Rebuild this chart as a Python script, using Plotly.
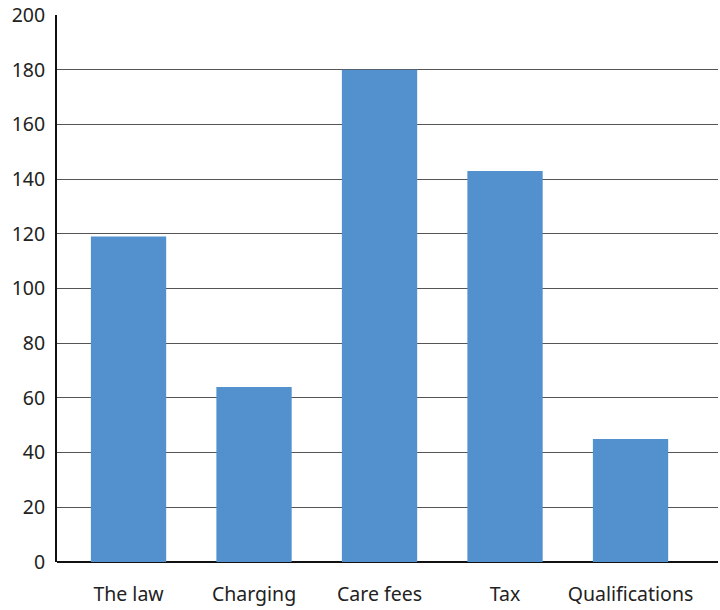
import plotly.graph_objects as go

categories = ["The law", "Charging", "Care fees", "Tax", "Qualifications"]
counts = [119, 64, 180, 143, 45]
y_ticks = [0, 20, 40, 60, 80, 100, 120, 140, 160, 180, 200]

fig = go.Figure(
    go.Bar(
        x=list(range(len(categories))),
        y=counts,
        width=0.6,
        marker=dict(color="#5290CE", line=dict(width=0)),
    )
)

fig.update_layout(
    width=720,
    height=610,
    margin=dict(l=57, r=2, t=15, b=48),
    paper_bgcolor="white",
    plot_bgcolor="white",
    showlegend=False,
    font=dict(family="Noto Sans", size=19.5, color="#222222"),
)

fig.update_xaxes(
    range=[-0.57, 4.697],
    tickmode="array",
    tickvals=list(range(len(categories))),
    ticktext=categories,
    showgrid=False,
    zeroline=False,
    showline=False,
    ticks="outside",
    ticklen=15,
    tickcolor="rgba(0,0,0,0)",
    tickfont=dict(size=19.5, color="#222222"),
)

fig.update_yaxes(
    range=[0, 200],
    tickmode="array",
    tickvals=y_ticks,
    showgrid=True,
    gridcolor="#555555",
    gridwidth=1.3,
    zeroline=True,
    zerolinecolor="#111111",
    zerolinewidth=2,
    showline=True,
    linecolor="#111111",
    linewidth=2,
    ticks="outside",
    ticklen=6,
    tickcolor="rgba(0,0,0,0)",
    tickfont=dict(size=19.5, color="#222222"),
)

fig.write_html("out.html")
